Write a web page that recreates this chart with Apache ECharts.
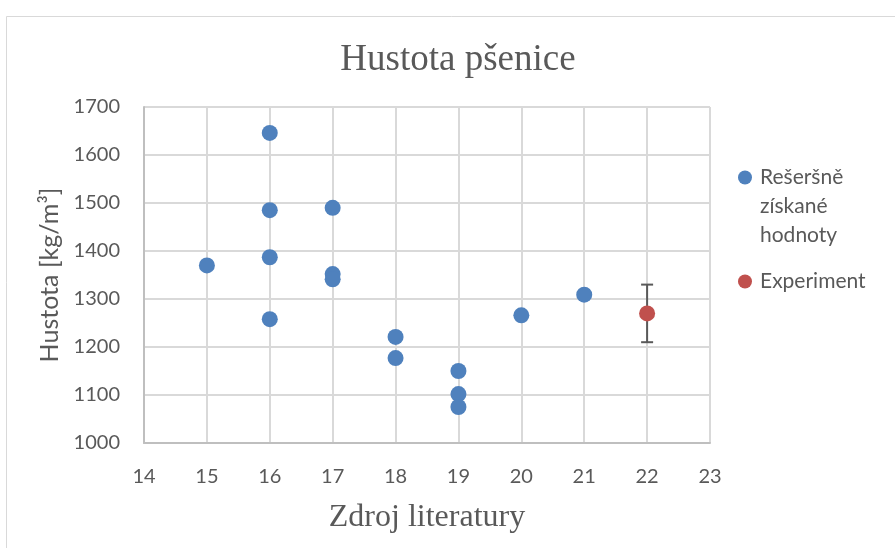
<!DOCTYPE html>
<html>
<head>
<meta charset="utf-8">
<script src="https://cdn.jsdelivr.net/npm/echarts@6/dist/echarts.min.js"></script>
<style>
  html, body { margin: 0; padding: 0; background: #fff; }
  #chart { width: 895px; height: 548px; }
</style>
</head>
<body>
<div id="chart"></div>
<script>
// rešeršně získané hodnoty: [zdroj, hustota]
const sourceX = [15, 16, 16, 16, 16, 17, 17, 17, 18, 18, 19, 19, 19, 20, 21];
const densityY = [1370, 1646, 1485, 1387, 1258, 1490, 1352, 1341, 1221, 1177, 1150, 1102, 1075, 1266, 1309];

// experiment s chybovou úsečkou
const expX = [22];
const expY = [1270];
const expErr = [60];

const xTicks = { min: 14, max: 23, interval: 1 };
const yTicks = { min: 1000, max: 1700, interval: 100 };

const chart = echarts.init(document.getElementById('chart'));

const literature = sourceX.map((x, i) => [x, densityY[i]]);
const experiment = expX.map((x, i) => [x, expY[i]]);
const errorBars = expX.map((x, i) => [x, expY[i] - expErr[i], expY[i] + expErr[i]]);

const litName = 'Rešeršně získané hodnoty';

const option = {
  animation: false,
  backgroundColor: '#fff',
  title: {
    text: 'Hustota pšenice',
    left: 453,
    textAlign: 'center',
    top: 37,
    textStyle: { fontFamily: 'Liberation Serif', fontSize: 37, fontWeight: 'normal', color: '#595959' }
  },
  graphic: [{
    type: 'rect',
    left: 4, top: 14,
    shape: { width: 1000, height: 1000 },
    style: { fill: 'none', stroke: '#d9d9d9', lineWidth: 1 },
    silent: true
  }],
  legend: {
    orient: 'vertical',
    left: 738,
    top: 105,
    padding: 0,
    itemWidth: 14,
    itemHeight: 14,
    itemGap: 17,
    icon: 'circle',
    // dva prázdné řádky nahoře => ikona u prvního řádku
    formatter: name => name === litName ? '\n\nRešeršně\nzískané\nhodnoty' : name,
    textStyle: { fontFamily: 'Lato', fontSize: 21, color: '#595959', lineHeight: 29, padding: [0, 0, 0, 3] },
    data: [litName, 'Experiment']
  },
  grid: { left: 144, right: 185, top: 107, bottom: 105 },
  xAxis: {
    type: 'value',
    min: xTicks.min, max: xTicks.max, interval: xTicks.interval,
    name: 'Zdroj literatury',
    nameLocation: 'middle',
    nameGap: 59,
    nameTextStyle: { fontFamily: 'Liberation Serif', fontSize: 32, color: '#595959' },
    axisLine: { show: true, lineStyle: { color: '#bfbfbf', width: 2 } },
    axisTick: { show: false },
    axisLabel: { fontFamily: 'Lato', fontSize: 20, color: '#595959', margin: 24 },
    splitLine: { show: true, lineStyle: { color: '#d9d9d9', width: 2 } }
  },
  yAxis: {
    type: 'value',
    min: yTicks.min, max: yTicks.max, interval: yTicks.interval,
    name: 'Hustota [kg/m³]',
    nameLocation: 'middle',
    nameGap: 82,
    nameTextStyle: { fontFamily: 'Lato', fontSize: 25, color: '#595959' },
    axisLine: { show: true, lineStyle: { color: '#bfbfbf', width: 2 } },
    axisTick: { show: false },
    axisLabel: { fontFamily: 'Lato', fontSize: 20, color: '#595959', margin: 24, formatter: v => String(v) },
    splitLine: { show: true, lineStyle: { color: '#d9d9d9', width: 2 } }
  },
  series: [
    {
      name: litName,
      type: 'scatter',
      symbolSize: 16,
      itemStyle: { color: '#4f81bd', opacity: 1 },
      data: literature
    },
    {
      name: 'Experiment',
      type: 'custom',
      renderItem: function (params, api) {
        const x = api.value(0);
        const lo = api.coord([x, api.value(1)]);
        const hi = api.coord([x, api.value(2)]);
        const cap = 6;
        const st = { stroke: '#595959', lineWidth: 2 };
        return {
          type: 'group',
          children: [
            { type: 'line', shape: { x1: hi[0], y1: hi[1], x2: lo[0], y2: lo[1] }, style: st },
            { type: 'line', shape: { x1: hi[0] - cap, y1: hi[1], x2: hi[0] + cap, y2: hi[1] }, style: st },
            { type: 'line', shape: { x1: lo[0] - cap, y1: lo[1], x2: lo[0] + cap, y2: lo[1] }, style: st }
          ]
        };
      },
      itemStyle: { color: '#c0504d' },
      data: errorBars,
      z: 1
    },
    {
      name: 'Experiment',
      type: 'scatter',
      symbolSize: 16,
      itemStyle: { color: '#c0504d', opacity: 1 },
      data: experiment,
      z: 3
    }
  ]
};

chart.setOption(option);
</script>
</body>
</html>
